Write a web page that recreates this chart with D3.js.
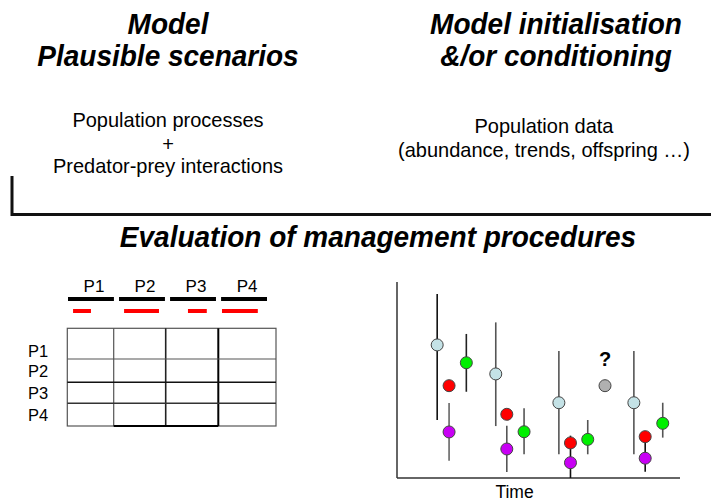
<!DOCTYPE html>
<html><head><meta charset="utf-8">
<script src="https://cdn.jsdelivr.net/npm/d3@7"></script>
<style>body{margin:0;background:#fff}svg{display:block}text{font-family:"Liberation Sans",Arial,sans-serif}</style>
</head><body><div id="chart"></div>
<script>
// ---------- data ----------
const procedures = ["P1", "P2", "P3", "P4"];
// relative span (0..1 of each header bar) of the red performance bar
const perfStart = [0.11, 0.11, 0.39, 0.02];
const perfEnd   = [0.50, 0.87, 0.80, 0.80];

// time-series panel (x in 0..100 time units, y in 0..10)
const blueX  = [14.2, 34.9, 57.2, 83.7];
const blueY  = [6.79, 5.31, 3.84, 3.84];
const blueLo = [2.96, 2.65, 1.21, 1.21];
const blueHi = [9.39, 7.94, 6.48, 6.48];
const redX   = [18.4, 38.8, 61.3, 87.7];
const redY   = [4.71, 3.25, 1.79, 2.11];
const purpleX  = [18.4, 38.8, 61.3, 87.7];
const purpleY  = [2.35, 1.48, 0.78, 1.01];
const purpleLo = [0.88, 0.31, 0.00, 0.32];
const purpleHi = [3.83, 2.67, 2.16, 2.30];
const greenX  = [24.5, 44.9, 67.4, 93.9];
const greenY  = [5.88, 2.36, 1.97, 2.79];
const greenLo = [4.40, 1.21, 1.21, 2.06];
const greenHi = [7.35, 3.56, 2.96, 3.84];
const unknownX = [73.5];
const unknownY = [4.71];

// ---------- styles / layout ----------
const W = 711, H = 504;
const colours = {blue: "#c4e2e6", red: "#ff0000", purple: "#c800f4", green: "#00f000", grey: "#b0b0b0"};
const barShade = {blue: ["#111", "#555", "#555", "#555"], purple: ["#666", "#555", "#111", "#111"], green: ["#222", "#555", "#555", "#555"]};

const svg = d3.select("#chart").append("svg").attr("width", W).attr("height", H);

function txt(x, y, s, size, opts = {}) {
  const sy = opts.sy || 1;
  return svg.append("text").attr("transform", `translate(${x},${y}) scale(1,${sy})`)
    .attr("text-anchor", opts.anchor || "middle")
    .attr("font-size", size).attr("font-weight", opts.bold ? "bold" : "normal")
    .attr("font-style", opts.italic ? "italic" : "normal").attr("fill", "#000").text(s);
}
const T = {bold: true, italic: true, sy: 1.08};

// Titles
txt(168, 34, "Model", 28, T);
txt(168, 66, "Plausible scenarios", 28, T);
txt(556, 34, "Model initialisation", 28, T);
txt(556, 66, "&/or conditioning", 28, T);

const B = {sy: 1.05};
txt(168, 127, "Population processes", 20, B);
txt(168, 151, "+", 20, B);
txt(168, 173, "Predator-prey interactions", 20, B);
txt(544, 133, "Population data", 20, B);
txt(544, 157, "(abundance, trends, offspring …)", 20, B);

// bracket
svg.append("path").attr("d", "M12,176 V214.5 H711").attr("fill", "none").attr("stroke", "#111").attr("stroke-width", 3);

txt(378, 247, "Evaluation of management procedures", 28, T);

// ---------- left: procedure table ----------
const band = d3.scaleBand().domain(procedures).range([68, 267]).paddingInner(0.1);
const frac = d3.scaleLinear().domain([0, 1]);
procedures.forEach((p, i) => {
  const x0 = band(p);
  txt(x0 + band.bandwidth() / 2 + 3, 292, p, 17);
  svg.append("line").attr("x1", x0).attr("x2", x0 + band.bandwidth()).attr("y1", 299).attr("y2", 299)
    .attr("stroke", "#000").attr("stroke-width", 4);
  frac.range([x0, x0 + band.bandwidth()]);
  svg.append("line").attr("x1", frac(perfStart[i])).attr("x2", frac(perfEnd[i])).attr("y1", 311).attr("y2", 311)
    .attr("stroke", "#ff0000").attr("stroke-width", 4);
});

const colW = [46.4, 52, 52.6, 57.7];
const rowH = [30.7, 23.3, 21, 22.7];
const tX0 = 67.3, tY0 = 328.3;
const colEdges = [tX0]; colW.forEach(w => colEdges.push(colEdges[colEdges.length - 1] + w));
const rowEdges = [tY0]; rowH.forEach(h => rowEdges.push(rowEdges[rowEdges.length - 1] + h));
const tbl = svg.append("g");
tbl.append("rect").attr("x", tX0).attr("y", tY0).attr("width", colEdges[4] - tX0).attr("height", rowEdges[4] - tY0)
  .attr("fill", "none").attr("stroke", "#555").attr("stroke-width", 1.2);
const vStyle = [null, ["#555", 1.2], ["#222", 1.6], ["#000", 2]];
[1, 2, 3].forEach(i => tbl.append("line").attr("x1", colEdges[i]).attr("x2", colEdges[i]).attr("y1", tY0).attr("y2", rowEdges[4])
  .attr("stroke", vStyle[i][0]).attr("stroke-width", vStyle[i][1]));
const hStyle = [null, ["#555", 1.2], ["#111", 1.6], ["#333", 1.4]];
[1, 2, 3].forEach(i => tbl.append("line").attr("x1", tX0).attr("x2", colEdges[4]).attr("y1", rowEdges[i]).attr("y2", rowEdges[i])
  .attr("stroke", hStyle[i][0]).attr("stroke-width", hStyle[i][1]));
tbl.append("line").attr("x1", colEdges[1]).attr("x2", colEdges[3]).attr("y1", rowEdges[4]).attr("y2", rowEdges[4])
  .attr("stroke", "#000").attr("stroke-width", 2);
procedures.forEach((p, i) => txt(28, (rowEdges[i] + rowEdges[i + 1]) / 2 + 6 + (i === 0 ? 7 : 0), p, 16.5, {anchor: "start"}));

// ---------- right: time series panel ----------
const x = d3.scaleLinear().domain([0, 100]).range([397, 680]);
const y = d3.scaleLinear().domain([0, 10]).range([478, 282]);
const ax = svg.append("g").attr("stroke", "#333").attr("stroke-width", 1.5);
ax.append("line").attr("x1", x(0)).attr("x2", x(0)).attr("y1", y(10)).attr("y2", y(0));
ax.append("line").attr("x1", x(0)).attr("x2", x(100)).attr("y1", y(0)).attr("y2", y(0));
txt((x(0) + x(100)) / 2 - 24, 498, "Time", 17.5);

function bars(X, Lo, Hi, shade) {
  X.forEach((v, i) => svg.append("line").attr("x1", x(v)).attr("x2", x(v)).attr("y1", y(Lo[i])).attr("y2", y(Hi[i]))
    .attr("stroke", shade[i]).attr("stroke-width", 1.6));
}
bars(blueX, blueLo, blueHi, barShade.blue);
bars(purpleX, purpleLo, purpleHi, barShade.purple);
bars(greenX, greenLo, greenHi, barShade.green);

function dots(X, Y, fill) {
  X.forEach((v, i) => svg.append("circle").attr("cx", x(v)).attr("cy", y(Y[i])).attr("r", 6)
    .attr("fill", fill).attr("stroke", "#444").attr("stroke-width", 1));
}
dots(blueX, blueY, colours.blue);
dots(redX, redY, colours.red);
dots(purpleX, purpleY, colours.purple);
dots(greenX, greenY, colours.green);
dots(unknownX, unknownY, colours.grey);
txt(x(unknownX[0]), y(unknownY[0]) - 20, "?", 20, {bold: true});
</script></body></html>
